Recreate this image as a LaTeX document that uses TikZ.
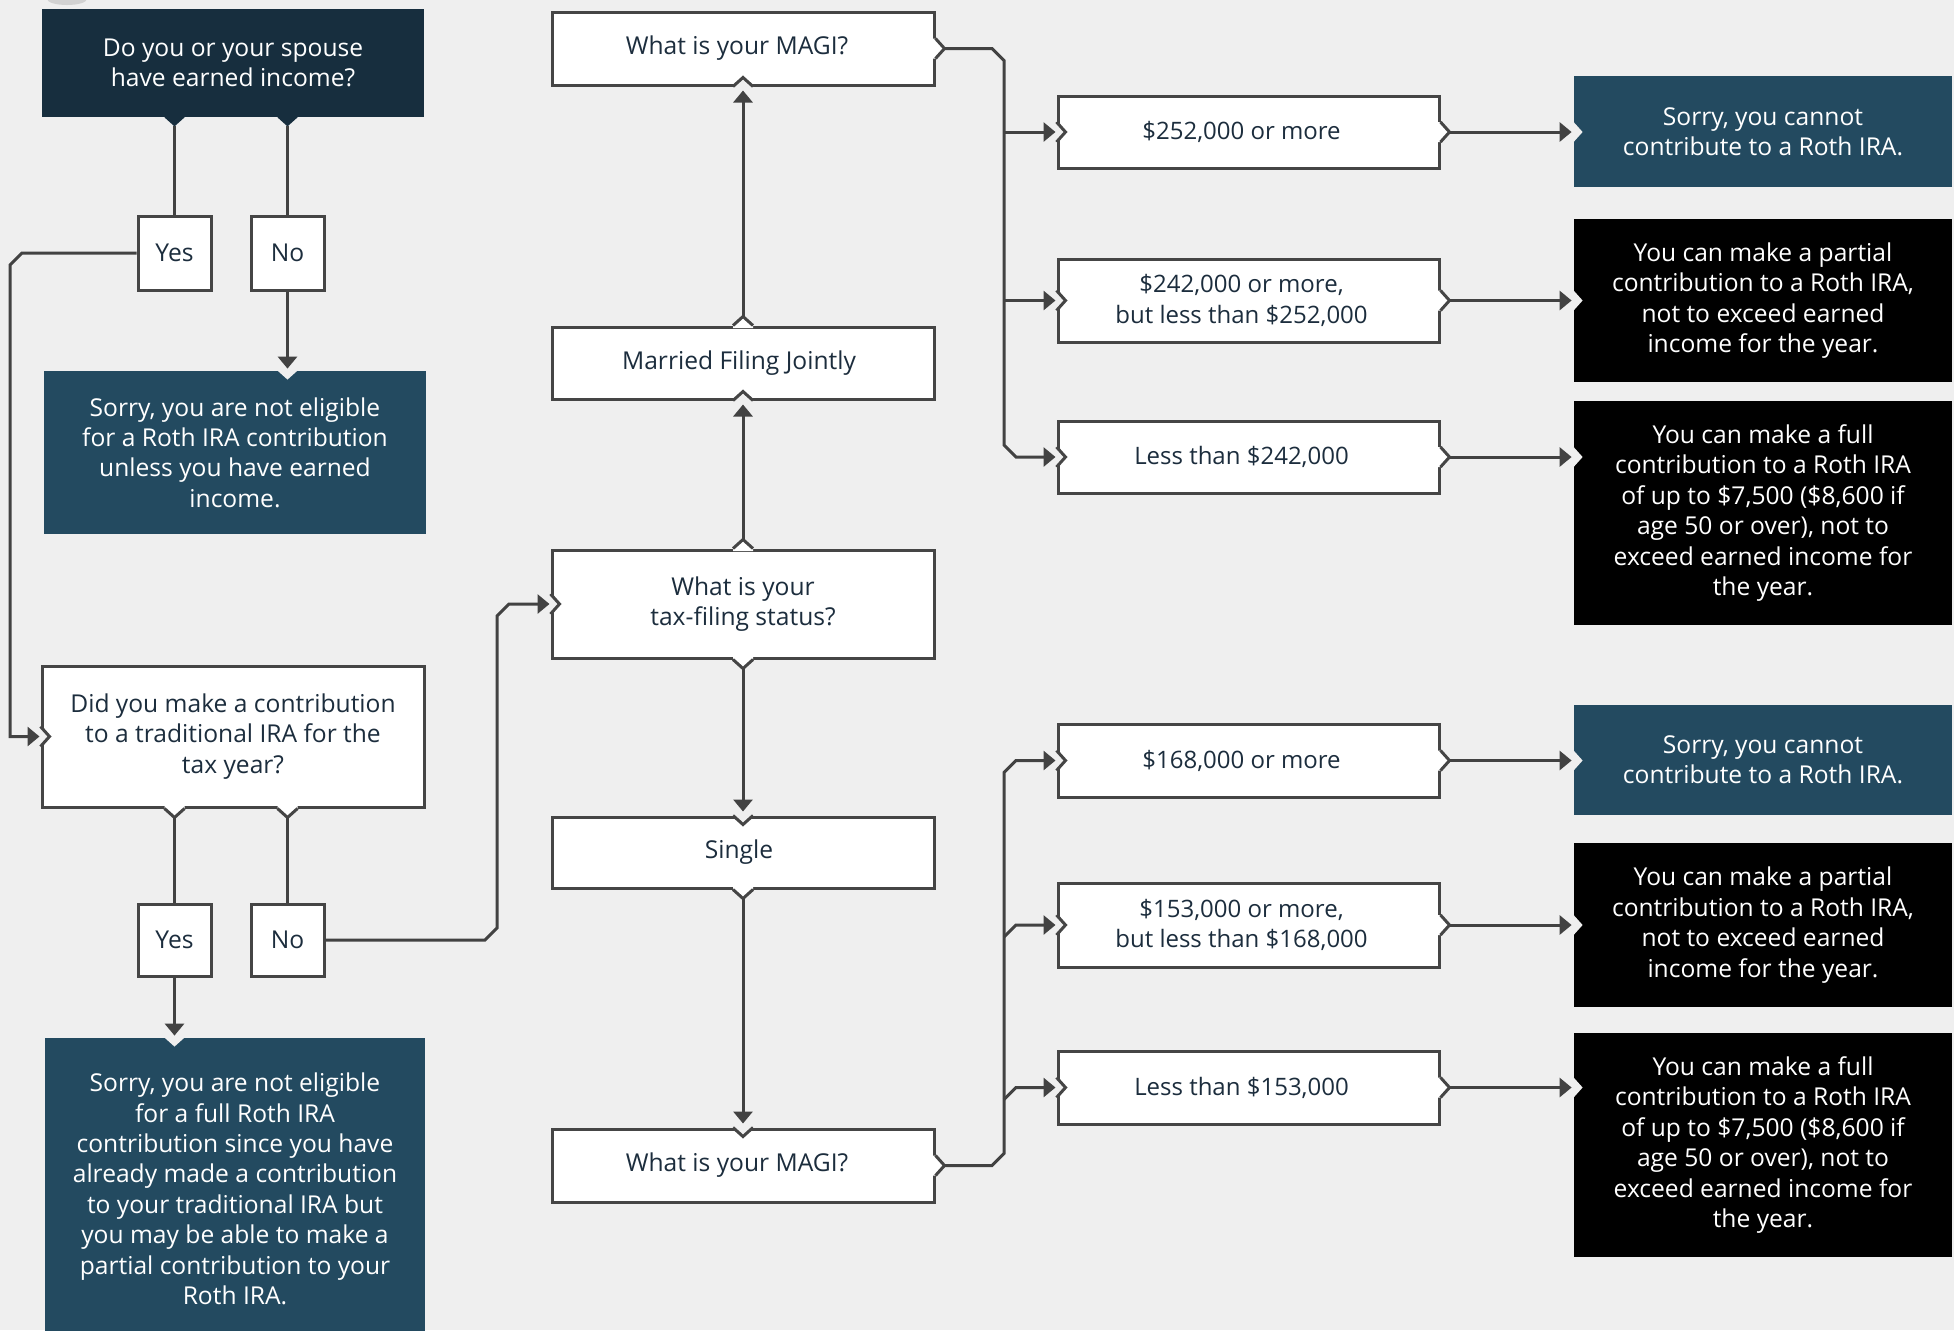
\documentclass[tikz,border=0pt]{standalone}
\usepackage{fontspec}
\setmainfont{Open Sans}
\usetikzlibrary{arrows.meta,calc}
\definecolor{bgc}{HTML}{EFEFEF}
\definecolor{navyc}{HTML}{172E3E}
\definecolor{tealc}{HTML}{234A60}
\definecolor{bordc}{HTML}{454545}
\definecolor{linec}{HTML}{424242}
\definecolor{textc}{HTML}{1C2D3D}
\newcommand\bx[7]{%
  \pgfmathsetmacro\bxcx{(#2+#4)/2}%
  \pgfmathsetmacro\bxcy{(#3+#5)/2}%
  \pgfmathsetmacro\bxw{(#4-#2)/2}%
  \pgfmathsetmacro\bxh{(#5-#3)/2}%
  \node[#6, minimum width=\bxw pt, minimum height=\bxh pt] (#1) at (\bxcx,\bxcy) {#7};}
\tikzset{
  pics/tabw/.style={code={
    \fill[white] (-10,-2.5)--(-10,0)--(0,9)--(10,0)--(10,-2.5)--cycle;
    \draw[bordc, line width=1.5pt] (-10,0)--(0,9)--(10,0);}},
  pics/notchw/.style={code={
    \fill[bgc] (-10,-2.5)--(-10,0)--(0,9)--(10,0)--(10,-2.5)--cycle;
    \draw[bordc, line width=1.5pt] (-10,0)--(0,9)--(10,0);}},
  pics/tabd/.style={code={
    \fill[#1] (-10,-1)--(-10,0)--(0,9)--(10,0)--(10,-1)--cycle;}},
  pics/notchd/.style={code={
    \fill[bgc] (-10,-2)--(-10,0)--(0,9)--(10,0)--(10,-2)--cycle;}},
}
\begin{document}
\begin{tikzpicture}[x=0.5pt,y=-0.5pt,
  base/.style={inner sep=0pt, align=center, font=\fontsize{12.3pt}{15.2pt}\selectfont},
  wbox/.style={base, fill=white, draw=bordc, line width=1.5pt, text=textc},
  nbox/.style={base, fill=navyc, text=white},
  tbox/.style={base, fill=tealc, text=white},
  kbox/.style={base, fill=black, text=white},
  lab/.style={base, text=textc, xshift=-3.5pt, font=\fontsize{12pt}{15.2pt}\selectfont},
  ln/.style={draw=linec, line width=1.5pt},
  arr/.style={ln, -{Triangle[length=6pt,width=9.5pt]}},
]
\fill[bgc] (0,0) rectangle (1954,1330);
\useasboundingbox (0,0) rectangle (1954,1330);
\fill[gray!35] (67,-1) ellipse [x radius=10pt, y radius=3pt];

\coordinate (lbus) at (10,0);
\coordinate (mbus) at (497,0);
\coordinate (busA) at (1004,0);

% left column
\bx{q1}{42}{9}{424}{117}{nbox}{Do you or your spouse\\have earned income?}
\bx{yes1}{138}{216}{211}{290}{wbox}{Yes}
\bx{no1}{251}{216}{324}{290}{wbox}{No}
\bx{sorry1}{44}{371}{426}{534}{tbox}{Sorry, you are not eligible\\for a Roth IRA contribution\\unless you have earned\\income.}
\bx{q2}{42}{666}{424}{807}{wbox}{Did you make a contribution\\to a traditional IRA for the\\tax year?}
\bx{yes2}{138}{904}{211}{976}{wbox}{Yes}
\bx{no2}{251}{904}{324}{976}{wbox}{No}
\bx{sorry2}{45}{1038}{425}{1340}{tbox}{Sorry, you are not eligible\\for a full Roth IRA\\contribution since you have\\already made a contribution\\to your traditional IRA but\\you may be able to make a\\partial contribution to your\\Roth IRA.}

% middle column
\bx{magi1}{552}{12}{934}{85}{wbox}{What is your MAGI?\hspace*{6pt}}
\bx{mfj}{552}{327}{934}{399}{wbox}{Married Filing Jointly\hspace*{4pt}}
\bx{tax}{552}{550}{934}{658}{wbox}{What is your\\tax-filing status?}
\bx{single}{552}{817}{934}{888}{wbox}{Single\hspace*{4pt}}
\bx{magi2}{552}{1129}{934}{1202}{wbox}{What is your MAGI?\hspace*{6pt}}

% ranges
\bx{r1}{1058}{96}{1439}{168}{wbox, label={[lab]center:{\$252,000 or more}}}{}
\bx{r2}{1058}{259}{1439}{342}{wbox, label={[lab]center:{\$242,000 or more,\\but less than \$252,000}}}{}
\bx{r3}{1058}{421}{1439}{493}{wbox, label={[lab]center:{Less than \$242,000}}}{}
\bx{r4}{1058}{724}{1439}{797}{wbox, label={[lab]center:{\$168,000 or more}}}{}
\bx{r5}{1058}{883}{1439}{967}{wbox, label={[lab]center:{\$153,000 or more,\\but less than \$168,000}}}{}
\bx{r6}{1058}{1051}{1439}{1124}{wbox, label={[lab]center:{Less than \$153,000}}}{}

% results
\bx{s1}{1574}{76}{1952}{187}{tbox}{Sorry, you cannot\\contribute to a Roth IRA.}
\bx{s2}{1574}{219}{1952}{382}{kbox}{You can make a partial\\contribution to a Roth IRA,\\not to exceed earned\\income for the year.}
\bx{s3}{1574}{401}{1952}{625}{kbox}{You can make a full\\contribution to a Roth IRA\\of up to \$7,500 (\$8,600 if\\age 50 or over), not to\\exceed earned income for\\the year.}
\bx{s4}{1574}{705}{1952}{815}{tbox}{Sorry, you cannot\\contribute to a Roth IRA.}
\bx{s5}{1574}{843}{1952}{1007}{kbox}{You can make a partial\\contribution to a Roth IRA,\\not to exceed earned\\income for the year.}
\bx{s6}{1574}{1033}{1952}{1257}{kbox}{You can make a full\\contribution to a Roth IRA\\of up to \$7,500 (\$8,600 if\\age 50 or over), not to\\exceed earned income for\\the year.}

% notches and tabs
\pic at (q1.south -| yes1) {tabd=navyc};
\pic at (q1.south -| no1) {tabd=navyc};
\pic at (sorry1.north -| no1) {notchd};
\pic[rotate=90] at (q2.west) {notchw};
\pic at (q2.south -| yes2) {tabw};
\pic at (q2.south -| no2) {tabw};
\pic at (sorry2.north -| yes2) {notchd};
\pic[rotate=90] at (tax.west) {notchw};
\pic[rotate=180] at (tax.north) {tabw};
\pic at (tax.south) {tabw};
\pic[rotate=180] at (mfj.south) {notchw};
\pic[rotate=180] at (mfj.north) {tabw};
\pic[rotate=180] at (magi1.south) {notchw};
\pic[rotate=90] at (magi1.east) {tabw};
\pic at (single.north) {notchw};
\pic at (single.south) {tabw};
\pic at (magi2.north) {notchw};
\pic[rotate=90] at (magi2.east) {tabw};
\foreach \r/\s in {r1/s1,r2/s2,r3/s3,r4/s4,r5/s5,r6/s6}{
  \pic[rotate=90] at (\r.west) {notchw};
  \pic[rotate=90] at (\r.east) {tabw};
  \pic[rotate=90] at (\r.east -| \s.west) {notchd};
}

% connectors: left column
\draw[ln] ($(q1.south -| yes1)+(0,9)$) -- (yes1.north);
\draw[ln] ($(q1.south -| no1)+(0,9)$) -- (no1.north);
\draw[arr] (no1.south) -- ($(no1.south |- sorry1.north)+(0,-2)$);
\draw[arr] (yes1.west) -- ($(yes1.west -| lbus)+(12,0)$) -- ($(yes1.west -| lbus)+(0,12)$)
  -- (q2.west -| lbus) -- ($(q2.west)+(-1,0)$);
\draw[ln] ($(q2.south -| yes2)+(0,9)$) -- (yes2.north);
\draw[ln] ($(q2.south -| no2)+(0,9)$) -- (no2.north);
\draw[arr] (yes2.south) -- ($(yes2.south |- sorry2.north)+(0,-2)$);
\draw[arr] (no2.east) -- ($(no2.east -| mbus)+(-12,0)$) -- ($(no2.east -| mbus)+(0,-12)$)
  -- ($(tax.west -| mbus)+(0,12)$) -- ($(tax.west -| mbus)+(12,0)$) -- ($(tax.west)+(-1,0)$);

% middle column
\draw[arr] ($(tax.north)+(0,-9)$) -- ($(mfj.south)+(0,4)$);
\draw[arr] ($(mfj.north)+(0,-9)$) -- ($(magi1.south)+(0,4)$);
\draw[arr] ($(tax.south)+(0,9)$) -- ($(single.north)+(0,-4)$);
\draw[arr] ($(single.south)+(0,9)$) -- ($(magi2.north)+(0,-4)$);

% upper bus
\draw[arr] ($(magi1.east)+(9,0)$) -- ($(magi1.east -| busA)+(-12,0)$) -- ($(magi1.east -| busA)+(0,12)$)
  -- ($(r3.west -| busA)+(0,-12)$) -- ($(r3.west -| busA)+(12,0)$) -- ($(r3.west)+(-1,0)$);
\draw[arr] (r1.west -| busA) -- ($(r1.west)+(-1,0)$);
\draw[arr] (r2.west -| busA) -- ($(r2.west)+(-1,0)$);

% lower bus
\draw[arr] ($(magi2.east)+(9,0)$) -- ($(magi2.east -| busA)+(-12,0)$) -- ($(magi2.east -| busA)+(0,-12)$)
  -- ($(r4.west -| busA)+(0,12)$) -- ($(r4.west -| busA)+(12,0)$) -- ($(r4.west)+(-1,0)$);
\draw[arr] ($(r5.west -| busA)+(0,12)$) -- ($(r5.west -| busA)+(12,0)$) -- ($(r5.west)+(-1,0)$);
\draw[arr] ($(r6.west -| busA)+(0,12)$) -- ($(r6.west -| busA)+(12,0)$) -- ($(r6.west)+(-1,0)$);

% ranges to results
\foreach \r/\s in {r1/s1,r2/s2,r3/s3,r4/s4,r5/s5,r6/s6}{
  \draw[arr] ($(\r.east)+(9,0)$) -- ($(\r.east -| \s.west)+(-2,0)$);
}
\end{tikzpicture}
\end{document}
